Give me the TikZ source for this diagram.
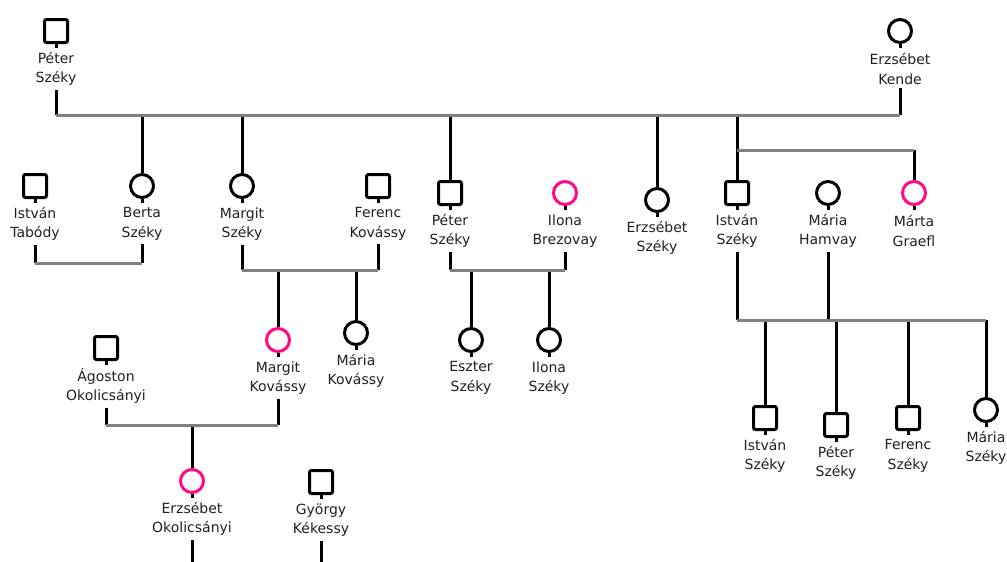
\documentclass[tikz,border=0pt]{standalone}
\usepackage{fontspec}
\setmainfont{DejaVu Sans}
\definecolor{barcol}{HTML}{808080}
\definecolor{pinkcol}{HTML}{FF0A84}
\definecolor{txtcol}{HTML}{202020}
\tikzset{
	sym/.style={draw, line width=3pt, minimum size=23pt, inner sep=0pt, rounded corners=2pt,
		append after command={(\tikzlastnode.south) edge[line width=3pt, draw=black, rounded corners=0pt] ++(0,4)}},
	lbl/.style={align=center, text=txtcol, font=\fontsize{14}{19.5}\selectfont, inner sep=0pt, outer sep=4pt},
	stem/.style={line width=3pt, draw=black},
	bar/.style={line width=3pt, draw=barcol},
}
\begin{document}
\begin{tikzpicture}[x=1pt,y=-1pt]
	\useasboundingbox (0,0) rectangle (1007,562);

	% persons
	\foreach \n/\x/\y/\sh/\c/\t in {
		p1/56/31/rectangle/black/{Péter\\Széky}, p2/900/31/circle/black/{Erzsébet\\Kende},
		ta/35/186/rectangle/black/{István\\Tabódy}, be/142/186/circle/black/{Berta\\Széky},
		ma/242/186/circle/black/{Margit\\Széky}, fe/378/186/rectangle/black/{Ferenc\\Kovássy},
		pe/450/193/rectangle/black/{Péter\\Széky}, il/565/193/circle/pinkcol/{Ilona\\Brezovay},
		er/657/200/circle/black/{Erzsébet\\Széky}, is/737/193/rectangle/black/{István\\Széky},
		mh/828/193/circle/black/{Mária\\Hamvay}, mg/914/193/circle/pinkcol/{Márta\\Graefl},
		ag/106/348/rectangle/black/{Ágoston\\Okolicsányi}, mk/278/340/circle/pinkcol/{Margit\\Kovássy},
		mv/356/333/circle/black/{Mária\\Kovássy}, es/471/340/circle/black/{Eszter\\Széky},
		iz/549/340/circle/black/{Ilona\\Széky},
		eo/192/481/circle/pinkcol/{Erzsébet\\Okolicsányi}, gy/321/482/rectangle/black/{György\\Kékessy},
		k1/765/418/rectangle/black/{István\\Széky}, k2/836/425/rectangle/black/{Péter\\Széky},
		k3/908/418/rectangle/black/{Ferenc\\Széky}, k4/986/410/circle/black/{Mária\\Széky}}
	{
		\node [sym, shape=\sh, draw=\c] (\n) at (\x,\y) {};
		\node [lbl] (t\n) at ([yshift=-38pt]\n.center) {\t};
	}

	% levels of the bars
	\coordinate (top) at (0,115);
	\coordinate (side) at (0,150);
	\coordinate (u1) at (0,263);
	\coordinate (u2) at (0,270);
	\coordinate (u3) at (0,320);
	\coordinate (u4) at (0,425);
	\coordinate (bottom) at (0,562);

	% stems
	\foreach \a/\b in {tp1/top, tp2/top, be/top, ma/top, pe/top, er/top, is/top, mg/side,
		tta/u1, tbe/u1, tma/u2, tfe/u2, mk/u2, mv/u2, tpe/u2, til/u2, es/u2, iz/u2,
		tis/u3, tmh/u3, k1/u3, k2/u3, k3/u3, k4/u3, tag/u4, tmk/u4, eo/u4, teo/bottom, tgy/bottom}
	{
		\draw [stem] (\a) -- (\a |- \b);
	}

	% bars
	\draw [bar] (tp1 |- top) -- (tp2 |- top);
	\draw [bar] (is |- side) -- (mg |- side);
	\draw [bar] (tta |- u1) -- (tbe |- u1);
	\draw [bar] (tma |- u2) -- (tfe |- u2);
	\draw [bar] (tpe |- u2) -- (til |- u2);
	\draw [bar] (tis |- u3) -- (k4 |- u3);
	\draw [bar] (tag |- u4) -- (tmk |- u4);

\end{tikzpicture}
\end{document}
